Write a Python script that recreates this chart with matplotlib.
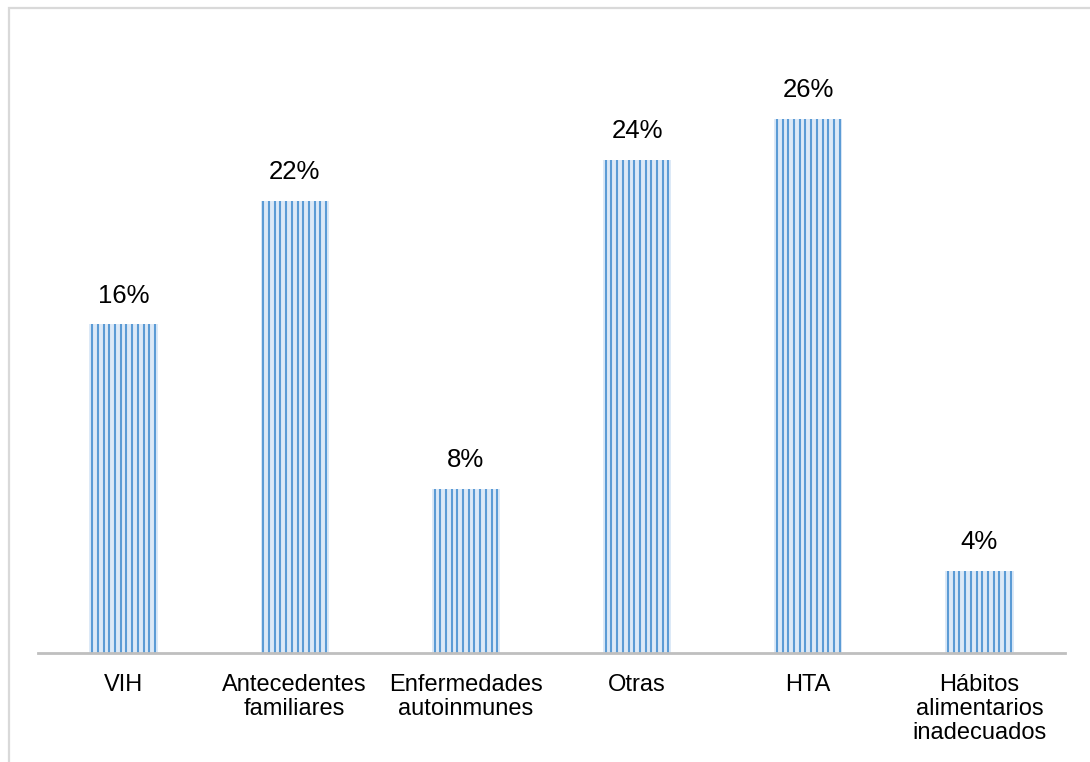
import matplotlib
matplotlib.use("Agg")
import numpy as np
import matplotlib.pyplot as plt
from matplotlib.patches import Rectangle

categories = ["VIH", "Antecedentes\nfamiliares", "Enfermedades\nautoinmunes",
              "Otras", "HTA", "Hábitos\nalimentarios\ninadecuados"]
values = [16, 22, 8, 24, 26, 4]
labels = ["16%", "22%", "8%", "24%", "26%", "4%"]

plt.rcParams["font.family"] = ["Liberation Sans", "DejaVu Sans"]

W, H = 1090, 762
fig = plt.figure(figsize=(W / 100, H / 100), dpi=100)

# chart frame (top and left edges visible)
fig.patches.append(Rectangle((8.5 / W, -0.1), 1.2, 1.1 - 8 / H,
                             transform=fig.transFigure, fill=False,
                             edgecolor="#d9d9d9", linewidth=1.6))

left, right = 38 / W, 1065 / W
bottom = (H - 653) / H
top = (H - 36.5) / H
ax = fig.add_axes([left, bottom, right - left, top - bottom])

x = range(len(categories))
bars = ax.bar(x, values, width=0.4, color="#dce9f7", linewidth=0, zorder=2)

# vertical stripe fill inside each bar
n_stripes = 12
for b in bars:
    x0, w, h = b.get_x(), b.get_width(), b.get_height()
    xs = x0 + (np.arange(n_stripes) + 0.5) * w / n_stripes
    ax.vlines(xs, 0, h, colors="#5b9bd5", linewidth=1.5, zorder=2.5)

for xi, v, lab in zip(x, values, labels):
    ax.annotate(lab, (xi, v), xytext=(0, 12), textcoords="offset points",
                ha="center", va="bottom", fontsize=18.5, color="#000000")

ax.set_xlim(-0.5, len(categories) - 0.5)
ax.set_ylim(0, 30)
ax.set_yticks([])
ax.set_xticks(list(x))
ax.set_xticklabels(categories, fontsize=17, linespacing=1.13)
ax.tick_params(axis="x", length=0, pad=15)
for s in ["top", "right", "left"]:
    ax.spines[s].set_visible(False)
ax.spines["bottom"].set_color("#bfbfbf")
ax.spines["bottom"].set_linewidth(2)
ax.spines["bottom"].set_zorder(3)

fig.savefig("out.png", dpi=100)
